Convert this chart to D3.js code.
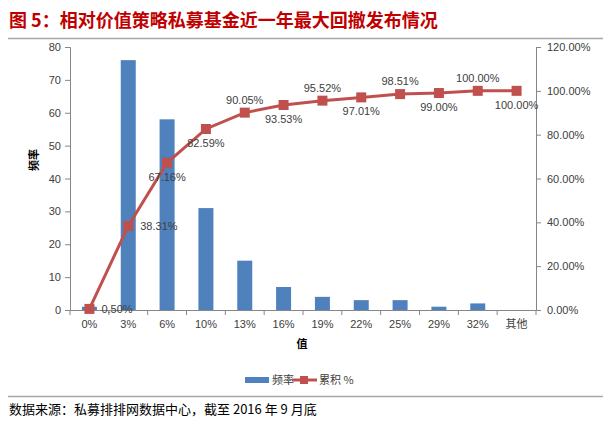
<!DOCTYPE html>
<html><head><meta charset="utf-8">
<script src="https://cdn.jsdelivr.net/npm/d3@7"></script>
<style>body{margin:0;background:#fff}svg{display:block}</style>
</head><body><svg id="c" width="611" height="427"></svg>
<script>
const categories = ["0%","3%","6%","10%","13%","16%","19%","22%","25%","29%","32%","其他"];
const frequency = [1,76,58,31,15,7,4,3,3,1,2,0];
const cumulative = [0.50,38.31,67.16,82.59,90.05,93.53,95.52,97.01,98.51,99.00,100.00,100.00];
const labelPos = ["right","right","below","below","above","below","above","below","above","below","above","below"];
const leftTicks = [0,10,20,30,40,50,60,70,80];
const rightTicks = [0,20,40,60,80,100,120];

const svg = d3.select("#c");
const font = "'Liberation Sans', Arial, sans-serif";
const cjk = "'Noto Sans CJK SC', sans-serif";
const L = 70, R = 536, T = 47, B = 310;

// title
svg.append("text").attr("x",9).attr("y",27).attr("fill","#c00000")
  .attr("font-family",cjk).attr("font-weight","bold").attr("font-size",18)
  .text("图 5：相对价值策略私募基金近一年最大回撤发布情况");
svg.append("line").attr("x1",8).attr("x2",603).attr("y1",38.5).attr("y2",38.5).attr("stroke","#a6a6a6").attr("stroke-width",1.5);

const x = d3.scaleBand().domain(categories).range([L,R]);
const y = d3.scaleLinear().domain([0,80]).range([B,T]);
const y2 = d3.scaleLinear().domain([0,120]).range([B,T]);

// axes
const gl = svg.append("g").attr("transform",`translate(${L},0)`)
  .call(d3.axisLeft(y).tickValues(leftTicks).tickSize(5).tickPadding(4));
const gr = svg.append("g").attr("transform",`translate(${R},0)`)
  .call(d3.axisRight(y2).tickValues(rightTicks).tickSize(5).tickPadding(6).tickFormat(d=>d.toFixed(2)+"%"));
const gx = svg.append("g").attr("transform",`translate(0,${B})`)
  .call(d3.axisBottom(x).tickSize(0).tickPadding(10));
[gl,gr,gx].forEach(g=>{
  g.selectAll("path").attr("stroke","#868686");
  g.selectAll("line").attr("stroke","#868686");
  g.selectAll("text").attr("font-family",font).attr("font-size",11).attr("fill","#404040");
});
gx.selectAll("text").attr("font-family",d=>d==="其他"?cjk:font);
// x ticks at band boundaries
const bounds = categories.map(c=>x(c)).concat([R]);
svg.append("g").selectAll("line").data(bounds).join("line")
  .attr("x1",d=>d).attr("x2",d=>d).attr("y1",B).attr("y2",B+5).attr("stroke","#868686");

// bars
const bw = 15;
svg.append("g").selectAll("rect").data(frequency).join("rect")
  .attr("x",(d,i)=>x(categories[i])+x.bandwidth()/2-bw/2)
  .attr("y",d=>y(d)).attr("width",bw).attr("height",d=>B-y(d))
  .attr("fill","#4f81bd");

// line
const cx = i=>x(categories[i])+x.bandwidth()/2;
svg.append("path").datum(cumulative)
  .attr("d",d3.line().x((d,i)=>cx(i)).y(d=>y2(d)))
  .attr("fill","none").attr("stroke","#c0504d").attr("stroke-width",3);
svg.append("g").selectAll("rect").data(cumulative).join("rect")
  .attr("x",(d,i)=>cx(i)-5).attr("y",d=>y2(d)-5).attr("width",10).attr("height",10)
  .attr("fill","#c0504d");

// labels
svg.append("g").selectAll("text").data(cumulative).join("text")
  .attr("x",(d,i)=>labelPos[i]==="right"?cx(i)+12:cx(i))
  .attr("y",(d,i)=>labelPos[i]==="right"?y2(d)+4:labelPos[i]==="above"?y2(d)-9:y2(d)+18)
  .attr("text-anchor",(d,i)=>labelPos[i]==="right"?"start":"middle")
  .attr("font-family",font).attr("font-size",11).attr("fill","#404040")
  .text(d=>d.toFixed(2)+"%");

// axis titles
svg.append("text").attr("transform","translate(38,160) rotate(-90)").attr("text-anchor","middle")
  .attr("font-family",cjk).attr("font-weight","bold").attr("font-size",11).attr("fill","#000").text("频率");
svg.append("text").attr("x",302).attr("y",348).attr("text-anchor","middle")
  .attr("font-family",cjk).attr("font-weight","bold").attr("font-size",11).attr("fill","#000").text("值");

// legend
svg.append("rect").attr("x",245).attr("y",377).attr("width",24).attr("height",6).attr("fill","#4f81bd");
svg.append("text").attr("x",272).attr("y",384).attr("font-family",cjk).attr("font-size",11).attr("fill","#404040").text("频率");
svg.append("line").attr("x1",292).attr("x2",317).attr("y1",380).attr("y2",380).attr("stroke","#c0504d").attr("stroke-width",3);
svg.append("rect").attr("x",300).attr("y",376).attr("width",8).attr("height",8).attr("fill","#c0504d");
svg.append("text").attr("x",319).attr("y",384).attr("font-family",cjk).attr("font-size",11).attr("fill","#404040").text("累积 %");

// source
svg.append("line").attr("x1",8).attr("x2",603).attr("y1",396.5).attr("y2",396.5).attr("stroke","#a6a6a6").attr("stroke-width",1.5);
svg.append("text").attr("x",9).attr("y",414).attr("font-family",cjk).attr("font-size",13).attr("fill","#000")
  .text("数据来源：私募排排网数据中心，截至 2016 年 9 月底");
</script></body></html>
